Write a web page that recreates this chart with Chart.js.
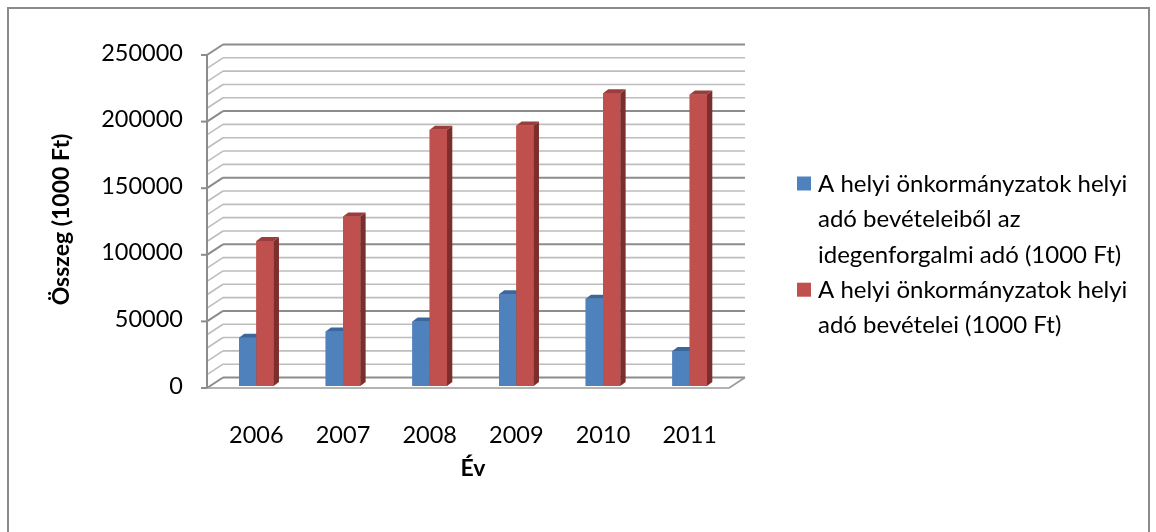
<!DOCTYPE html>
<html>
<head>
<meta charset="utf-8">
<script src="https://cdn.jsdelivr.net/npm/chart.js@4/dist/chart.umd.min.js"></script>
<style>
  body { margin: 0; background: #fff; }
  #wrap { width: 1156px; height: 532px; }
</style>
</head>
<body>
<div id="wrap"><canvas id="adoChart" width="1156" height="532"></canvas></div>
<script>
// adatok
const evek = ['2006', '2007', '2008', '2009', '2010', '2011'];
const idegenforgalmiAdo = [36300, 41000, 48500, 68800, 65500, 26300];
const helyiAdoBevetelek = [108800, 127300, 192300, 195500, 219800, 218800];
const sorozatNevek = [
    'A helyi önkormányzatok helyi adó bevételeiből az idegenforgalmi adó (1000 Ft)',
    'A helyi önkormányzatok helyi adó bevételei (1000 Ft)'
];
const yMax = 250000;
const yLepes = 50000;
const racsLepes = 10000;

const betu = 'Lato, "Open Sans", sans-serif';

// szinek: elolap, teteje, oldala
const szinek = [
    { front: '#4F81BD', top: '#3C679B', side: '#33577F' },
    { front: '#C0504D', top: '#9A3D3B', side: '#7C2E2C' }
];

// terbeli eltolasok az oszlopok sikjahoz kepest
const ELO = { dx: -6, dy: 2 };
const HATSO = { dx: 10, dy: -8.5 };
const OSZLOP = { dx: 5.3, dy: -4 };

function vonal(ctx, x1, y1, x2, y2) {
    ctx.beginPath();
    ctx.moveTo(x1, y1);
    ctx.lineTo(x2, y2);
    ctx.stroke();
}

function sokszog(ctx, pontok, szin) {
    ctx.beginPath();
    ctx.moveTo(pontok[0][0], pontok[0][1]);
    for (let i = 1; i < pontok.length; i++) ctx.lineTo(pontok[i][0], pontok[i][1]);
    ctx.closePath();
    ctx.fillStyle = szin;
    ctx.fill();
}

const terPlugin = {
    id: 'ter3d',
    beforeDraw(chart) {
        const ctx = chart.ctx;
        ctx.save();
        ctx.strokeStyle = '#8a8a8a';
        ctx.lineWidth = 2;
        ctx.strokeRect(8, 8, 1141, 600);
        ctx.restore();
    },
    beforeDatasetsDraw(chart) {
        const ctx = chart.ctx;
        const { left, right, top, bottom } = chart.chartArea;
        const y = chart.scales.y;
        ctx.save();
        for (let v = 0; v <= yMax; v += racsLepes) {
            const yp = y.getPixelForValue(v);
            const fo = v % yLepes === 0;
            ctx.strokeStyle = fo ? '#8c8c8c' : '#bdbdbd';
            ctx.lineWidth = fo ? 2 : 1.6;
            vonal(ctx, left + HATSO.dx, yp + HATSO.dy, right + HATSO.dx + 2, yp + HATSO.dy);
            vonal(ctx, left + ELO.dx, yp + ELO.dy, left + HATSO.dx, yp + HATSO.dy);
        }
        // padlo
        ctx.strokeStyle = '#9a9a9a';
        ctx.lineWidth = 1.6;
        vonal(ctx, left + ELO.dx, bottom + ELO.dy, right + ELO.dx + 2, bottom + ELO.dy);
        vonal(ctx, right + ELO.dx + 2, bottom + ELO.dy, right + HATSO.dx + 2, bottom + HATSO.dy);
        // fuggoleges tengely
        ctx.strokeStyle = '#8c8c8c';
        ctx.lineWidth = 2;
        vonal(ctx, left + ELO.dx, top + ELO.dy, left + ELO.dx, bottom + ELO.dy);
        for (let v = 0; v <= yMax; v += yLepes) {
            const yp = y.getPixelForValue(v) + ELO.dy;
            vonal(ctx, left + ELO.dx - 6, yp, left + ELO.dx, yp);
        }
        ctx.restore();
    },
    afterDatasetsDraw(chart) {
        const ctx = chart.ctx;
        ctx.save();
        const n = chart.data.labels.length;
        for (let j = 0; j < n; j++) {
            chart.data.datasets.forEach((ds, i) => {
                const el = chart.getDatasetMeta(i).data[j];
                const { x, y, base, width } = el.getProps(['x', 'y', 'base', 'width'], true);
                const l = x - width / 2, r = x + width / 2;
                const c = szinek[i];
                ctx.fillStyle = c.front;
                ctx.fillRect(l, y, width, base - y);
                sokszog(ctx, [[l, y], [r, y], [r + OSZLOP.dx, y + OSZLOP.dy], [l + OSZLOP.dx, y + OSZLOP.dy]], c.top);
                sokszog(ctx, [[r, y], [r + OSZLOP.dx, y + OSZLOP.dy], [r + OSZLOP.dx, base + OSZLOP.dy], [r, base]], c.side);
            });
        }
        ctx.restore();
    },
    afterDraw(chart) {
        // jelmagyarazat, tordelt sorokkal
        const ctx = chart.ctx;
        ctx.save();
        ctx.font = '24px ' + betu;
        ctx.textBaseline = 'middle';
        ctx.fillStyle = '#000';
        const szovegX = 818, maxSzel = 332, sorMag = 35.4;
        let sorY = 184;
        chart.data.datasets.forEach((ds, i) => {
            ctx.fillStyle = szinek[i].front;
            ctx.fillRect(797, sorY - 7.5, 14, 14);
            ctx.fillStyle = '#000';
            const szavak = ds.label.split(' ');
            let sor = '';
            szavak.forEach(sz => {
                const proba = sor ? sor + ' ' + sz : sz;
                if (ctx.measureText(proba).width > maxSzel && sor) {
                    ctx.fillText(sor, szovegX, sorY);
                    sorY += sorMag;
                    sor = sz;
                } else {
                    sor = proba;
                }
            });
            ctx.fillText(sor, szovegX, sorY);
            sorY += sorMag;
        });
        ctx.restore();
    }
};

const ctxAdo = document.getElementById('adoChart').getContext('2d');

const adoChart = new Chart(ctxAdo, {
    type: 'bar',
    data: {
        labels: evek,
        datasets: [{
            label: sorozatNevek[0],
            data: idegenforgalmiAdo,
            backgroundColor: szinek[0].front
        }, {
            label: sorozatNevek[1],
            data: helyiAdoBevetelek,
            backgroundColor: szinek[1].front
        }]
    },
    options: {
        responsive: false,
        animation: false,
        devicePixelRatio: 1,
        layout: {
            padding: { top: 53, right: 423, bottom: 0, left: 0 }
        },
        datasets: {
            bar: { categoryPercentage: 0.4, barPercentage: 1.0 }
        },
        plugins: {
            legend: { display: false },
            tooltip: { enabled: false }
        },
        scales: {
            x: {
                grid: { display: false, drawTicks: false },
                border: { display: false },
                ticks: {
                    color: '#000',
                    padding: 35,
                    font: { family: betu, size: 23.5 }
                },
                title: {
                    display: true,
                    text: 'Év',
                    color: '#000',
                    padding: { top: 0, bottom: 50 },
                    font: { family: betu, size: 23, weight: 'bold' }
                },
                afterFit(scale) { scale.height = 146; }
            },
            y: {
                min: 0,
                max: yMax,
                grid: { display: false, drawTicks: false },
                border: { display: false },
                ticks: {
                    stepSize: yLepes,
                    color: '#000',
                    padding: 30,
                    font: { family: betu, size: 23.5 },
                    callback: (v) => String(v)
                },
                title: {
                    display: true,
                    text: 'Összeg (1000 Ft)',
                    color: '#000',
                    padding: { top: 48, bottom: 0 },
                    font: { family: betu, size: 23, weight: 'bold' }
                },
                afterFit(scale) { scale.width = 213; }
            }
        }
    },
    plugins: [terPlugin]
});
</script>
</body>
</html>
